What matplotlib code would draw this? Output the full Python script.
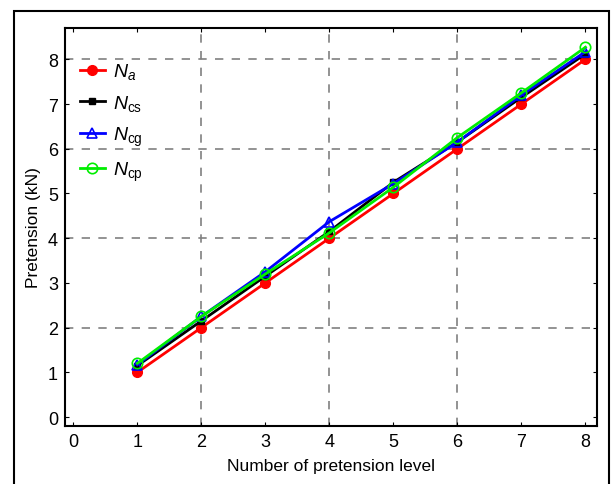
import matplotlib.pyplot as plt
from matplotlib.patches import Rectangle

plt.rcParams['font.family'] = ['Liberation Sans', 'DejaVu Sans']
plt.rcParams['mathtext.fontset'] = 'custom'
plt.rcParams['mathtext.it'] = 'Liberation Sans:italic'
plt.rcParams['mathtext.rm'] = 'Liberation Sans'

# pretension levels and measured values (kN)
levels = [1, 2, 3, 4, 5, 6, 7, 8]
n_a = [1.0, 2.0, 3.0, 4.0, 5.0, 6.0, 7.0, 8.0]
n_cs = [1.15, 2.15, 3.15, 4.15, 5.25, 6.15, 7.15, 8.12]
n_cg = [1.17, 2.25, 3.25, 4.37, 5.22, 6.15, 7.2, 8.17]
n_cp = [1.2, 2.25, 3.2, 4.12, 5.14, 6.25, 7.25, 8.27]

fig = plt.figure(figsize=(6.13, 4.85), dpi=100)
ax = fig.add_axes([65 / 613, 1 - 427 / 485, 532 / 613, 398 / 485])

# outer frame around the figure
fig.patches.append(Rectangle((14 / 613, -0.05), 595 / 613, 1.05 - 12 / 485,
                             transform=fig.transFigure, fill=False,
                             edgecolor='black', linewidth=1.5))

ax.plot(levels, n_a, '-o', color='red', lw=2, ms=7, label='$N_a$')
ax.plot(levels, n_cs, '-s', color='black', lw=2, ms=4.5, label=r'$N_{\mathrm{cs}}$')
ax.plot(levels, n_cg, '-^', color='blue', lw=2, ms=7, mfc='none', mew=1.2,
        label=r'$N_{\mathrm{cg}}$')
ax.plot(levels, n_cp, '-o', color='#00ee00', lw=2, ms=7.5, mfc='none', mew=1.2,
        label=r'$N_{\mathrm{cp}}$')

ax.set_xlim(-0.13, 8.18)
ax.set_ylim(-0.2, 8.7)
ax.set_xticks(range(0, 9))
ax.set_yticks(range(0, 9))
ax.tick_params(direction='in', labelsize=13, top=True, right=True, length=3, pad=5)

for v in [2, 4, 6]:
    ax.axvline(v, color='gray', ls=(0, (5, 5)), lw=1.2, zorder=0)
for v in [2, 4, 6, 8]:
    ax.axhline(v, color='gray', ls=(0, (5, 5)), lw=1.2, zorder=0)

for s in ax.spines.values():
    s.set_linewidth(1.5)

ax.set_xlabel('Number of pretension level', fontsize=12.5, labelpad=6)
ax.set_ylabel('Pretension (kN)', fontsize=12.5, labelpad=5)

ax.legend(loc='upper left', frameon=False, fontsize=14, bbox_to_anchor=(-0.005, 0.96),
          handlelength=1.3, handletextpad=0.4, labelspacing=0.6)

fig.savefig('out.png', dpi=100)
